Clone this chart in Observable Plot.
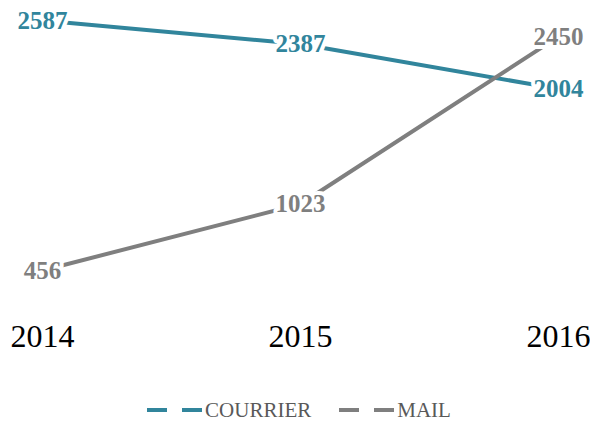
<!DOCTYPE html>
<html>
<head>
<meta charset="utf-8">
<script src="https://cdn.jsdelivr.net/npm/d3@7"></script>
<script src="https://cdn.jsdelivr.net/npm/@observablehq/plot@0.6"></script>
<style>
  html, body { margin: 0; padding: 0; background: #fff; }
  #chart { width: 590px; }
  .legend { display: flex; justify-content: center; align-items: center; margin-top: 20px; height: 20px;
    font-family: "Liberation Serif", serif; font-size: 21px; color: #595959; padding-left: 8px; }
  .legend .item { display: flex; align-items: center; margin: 0 14px; }
  .legend svg { display: block; margin-right: 3px; }
</style>
</head>
<body>
<div id="chart"></div>
<script>
const years = [2014, 2015, 2016];
const courrier = [2587, 2387, 2004];
const mail = [456, 1023, 2450];
const seriesNames = ["COURRIER", "MAIL"];
const seriesColors = ["#31859C", "#7F7F7F"];

const seriesValues = [courrier, mail];
const data = seriesNames.flatMap((name, i) =>
  years.map((year, j) => ({ series: name, year, value: seriesValues[i][j] }))
);

const chart = Plot.plot({
  width: 590,
  height: 380,
  marginLeft: 42,
  marginRight: 32,
  marginTop: 20,
  marginBottom: 110,
  x: { type: "linear", domain: [years[0], years[years.length - 1]], axis: null },
  y: { axis: null },
  color: { domain: seriesNames, range: seriesColors },
  marks: [
    Plot.line(data, { x: "year", y: "value", z: "series", stroke: "series", strokeWidth: 4, strokeLinecap: "round", strokeLinejoin: "round" }),
    Plot.text(data, { x: "year", y: "value", text: d => String(d.value), fill: "series",
      stroke: "white", strokeWidth: 8, fontWeight: "bold", fontSize: 25,
      fontFamily: "Liberation Serif", textAnchor: "middle", lineAnchor: "middle" }),
    Plot.axisX(years, { tickSize: 0, tickPadding: 54, tickFormat: d => String(d), label: null,
      fontSize: 32, fontFamily: "Liberation Serif", fill: "#000", anchor: "bottom" })
  ]
});
document.getElementById("chart").appendChild(chart);

const legend = document.createElement("div");
legend.className = "legend";
seriesNames.forEach((name, i) => {
  const item = document.createElement("div");
  item.className = "item";
  item.innerHTML = `<svg width="55" height="8"><line x1="0" y1="4" x2="55" y2="4" stroke="${seriesColors[i]}" stroke-width="4" stroke-dasharray="20 15"/></svg><span>${name}</span>`;
  legend.appendChild(item);
});
document.body.appendChild(legend);
</script>
</body>
</html>
